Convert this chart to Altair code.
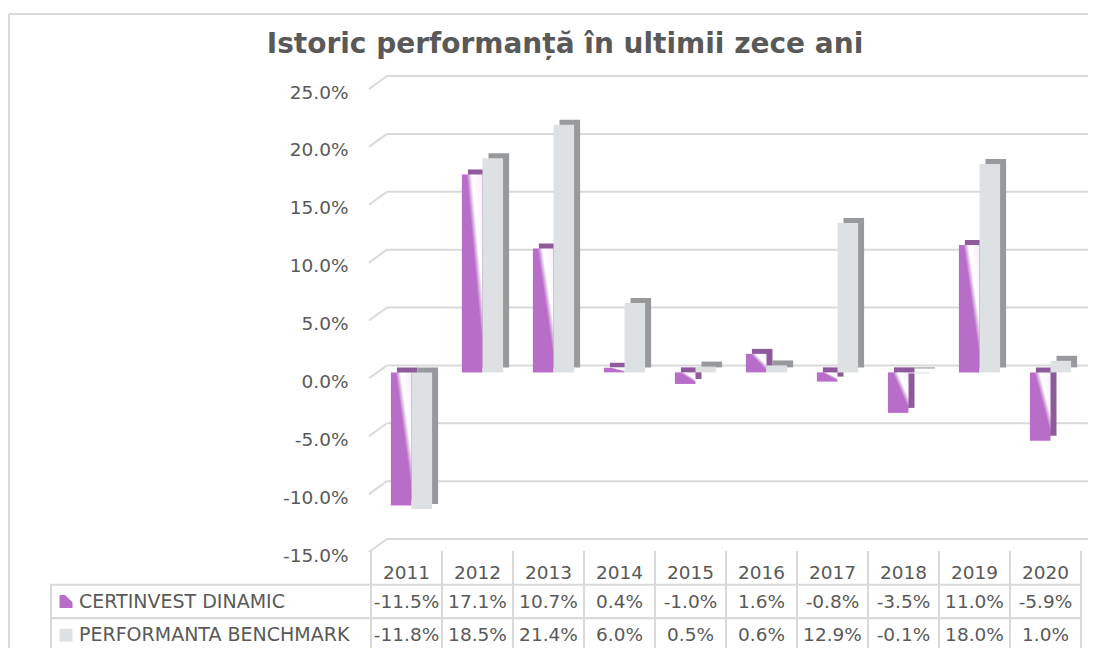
import altair as alt
import pandas as pd

# ---------------- data ----------------
years = ["2011", "2012", "2013", "2014", "2015", "2016", "2017", "2018", "2019", "2020"]
certinvest = [-11.5, 17.1, 10.7, 0.4, -1.0, 1.6, -0.8, -3.5, 11.0, -5.9]
benchmark = [-11.8, 18.5, 21.4, 6.0, 0.5, 0.6, 12.9, -0.1, 18.0, 1.0]
series_names = ["CERTINVEST DINAMIC", "PERFORMANTA BENCHMARK"]
y_ticks = [-15, -10, -5, 0, 5, 10, 15, 20, 25]
title_text = "Istoric performanță în ultimii zece ani"

# ---------------- styles ----------------
PURPLE = "#B86DC9"
PURPLE_SIDE = "#8E5A9C"
GRAY_FRONT = "#DEE1E4"
GRAY_SIDE = "#97999C"
GRID = "#D9D9D9"
TEXT = "#595959"
FONT = "DejaVu Sans"
FS = 18.5

W, H = 710, 463
BW = 20.6

df_c = pd.DataFrame({"year": years, "value": certinvest})
df_b = pd.DataFrame({"year": years, "value": benchmark})
grid_df = pd.DataFrame({"v": y_ticks})

HDR = "hdr"
rows_domain = [HDR] + series_names
body_rows = []
for name, vals in zip(series_names, [certinvest, benchmark]):
    for yr, v in zip(years, vals):
        body_rows.append({"year": yr, "row": name, "label": f"{v:.1f}%"})
cells_body = pd.DataFrame(body_rows)
header_df = pd.DataFrame({"year": years, "row": [HDR] * len(years), "label": years})
label_df = pd.DataFrame({"row": series_names, "name": series_names})
one = pd.DataFrame({"t": [title_text]})

x_scale = alt.Scale(domain=years, paddingInner=0, paddingOuter=0)
X = alt.X("year:N", scale=x_scale, axis=None)
y_scale = alt.Scale(domain=[-15, 25], nice=False)
y_axis = alt.Axis(
    values=y_ticks,
    labelExpr="(datum.value < 0 ? '-' : '') + format(abs(datum.value), '.1f') + '%'",
    domain=False, ticks=False, tickSize=0, grid=False, title=None,
    labelFont=FONT, labelFontSize=FS, labelColor=TEXT,
    labelPadding=23, labelOffset=9,
)
row_scale = alt.Scale(type="band", domain=rows_domain, range=[468, 569],
                      paddingInner=0, paddingOuter=0)
YR = alt.Y("row:N", scale=row_scale, axis=None)

# ---------------- plot (3D-like columns) ----------------
back_grid = alt.Chart(grid_df).mark_rule(color=GRID, strokeWidth=2, yOffset=-7).encode(
    x=alt.value(16), x2=alt.value(760),
    y=alt.Y("v:Q", scale=y_scale, axis=y_axis),
)
front_edge = alt.Chart(grid_df).mark_rule(color=GRID, strokeWidth=2, yOffset=6, y2Offset=-7).encode(
    x=alt.value(-2), x2=alt.value(16),
    y=alt.Y("v:Q", scale=y_scale, axis=y_axis), y2="v:Q",
)

purple_grad = {
    "gradient": "linear", "x1": 0, "y1": 0.87, "x2": 1, "y2": 0,
    "stops": [
        {"offset": 0, "color": PURPLE},
        {"offset": 0.56, "color": PURPLE},
        {"offset": 0.70, "color": "#FFFFFF"},
        {"offset": 1, "color": "#F6EEF8"},
    ],
}

c_side = alt.Chart(df_c).mark_bar(width=BW, xOffset=0.7, yOffset=-5, y2Offset=-5,
                                  color=PURPLE_SIDE).encode(
    x=X, y=alt.Y("value:Q", scale=y_scale, axis=y_axis))
c_front = alt.Chart(df_c).mark_bar(width=BW, xOffset=-5.3, color=purple_grad).encode(
    x=X, y=alt.Y("value:Q", scale=y_scale, axis=y_axis))
b_side = alt.Chart(df_b).mark_bar(width=BW, xOffset=21.3, yOffset=-5, y2Offset=-5,
                                  color=GRAY_SIDE).encode(
    x=X, y=alt.Y("value:Q", scale=y_scale, axis=y_axis))
b_front = alt.Chart(df_b).mark_bar(width=BW, xOffset=15.3, color=GRAY_FRONT).encode(
    x=X, y=alt.Y("value:Q", scale=y_scale, axis=y_axis))

bars_group = alt.layer(back_grid, front_edge, c_side, c_front, b_side, b_front)

# ---------------- data table ----------------
hdr_rules = alt.Chart(header_df).mark_rule(color=GRID, strokeWidth=2).encode(
    x=alt.X("year:N", scale=x_scale, axis=None, bandPosition=0),
    y=alt.value(468), y2=alt.value(620),
)
right_rule = alt.Chart(one).mark_rule(color=GRID, strokeWidth=2).encode(
    x=alt.value(W), y=alt.value(468), y2=alt.value(620),
)
body_rects = alt.Chart(cells_body).mark_rect(fill="white", stroke=GRID, strokeWidth=2).encode(
    x=X, y=YR)
label_rects = alt.Chart(label_df).mark_rect(fill="white", stroke=GRID, strokeWidth=2).encode(
    x=alt.value(-320), x2=alt.value(0), y=YR)
body_text = alt.Chart(cells_body).mark_text(font=FONT, fontSize=FS, color=TEXT).encode(
    x=X, y=YR, text="label:N")
header_text = alt.Chart(header_df).mark_text(font=FONT, fontSize=FS, color=TEXT, dy=5).encode(
    x=X, y=YR, text="label:N")
label_text = alt.Chart(label_df).mark_text(font=FONT, fontSize=19, color=TEXT, align="left").encode(
    x=alt.value(-292), y=YR, text="name:N")
icon_c = alt.Chart(label_df.iloc[[0]]).mark_point(
    shape="M-1,-1L-0.15,-1L1,0.1L1,1L-1,1Z", filled=True, size=169, color=PURPLE, opacity=1
).encode(x=alt.value(-305), y=YR)
icon_b = alt.Chart(label_df.iloc[[1]]).mark_point(
    shape="square", filled=True, size=169, color=GRAY_FRONT, opacity=1
).encode(x=alt.value(-305), y=YR)

table_group = alt.layer(hdr_rules, right_rule, body_rects, label_rects,
                        body_text, header_text, label_text, icon_c, icon_b)

# ---------------- frame and title ----------------
border_top = alt.Chart(one).mark_rule(color=GRID, strokeWidth=2).encode(
    x=alt.value(-362), x2=alt.value(760), y=alt.value(-69))
border_left = alt.Chart(one).mark_rule(color=GRID, strokeWidth=2).encode(
    x=alt.value(-362), y=alt.value(-69), y2=alt.value(620))
title = alt.Chart(one).mark_text(font=FONT, fontWeight="bold", fontSize=28, color=TEXT,
                                 align="center", baseline="alphabetic").encode(
    x=alt.value(194), y=alt.value(-30), text="t:N")

chart = alt.layer(border_top, border_left, title, bars_group, table_group).resolve_scale(
    y="independent"
).properties(
    width=W, height=H,
    padding={"left": 363, "top": 75, "right": 7, "bottom": 102},
    autosize=alt.AutoSizeParams(type="none"),
    background="white",
).configure_view(stroke=None)

chart.save("out.html", embed_options={"renderer": "svg", "actions": False})
